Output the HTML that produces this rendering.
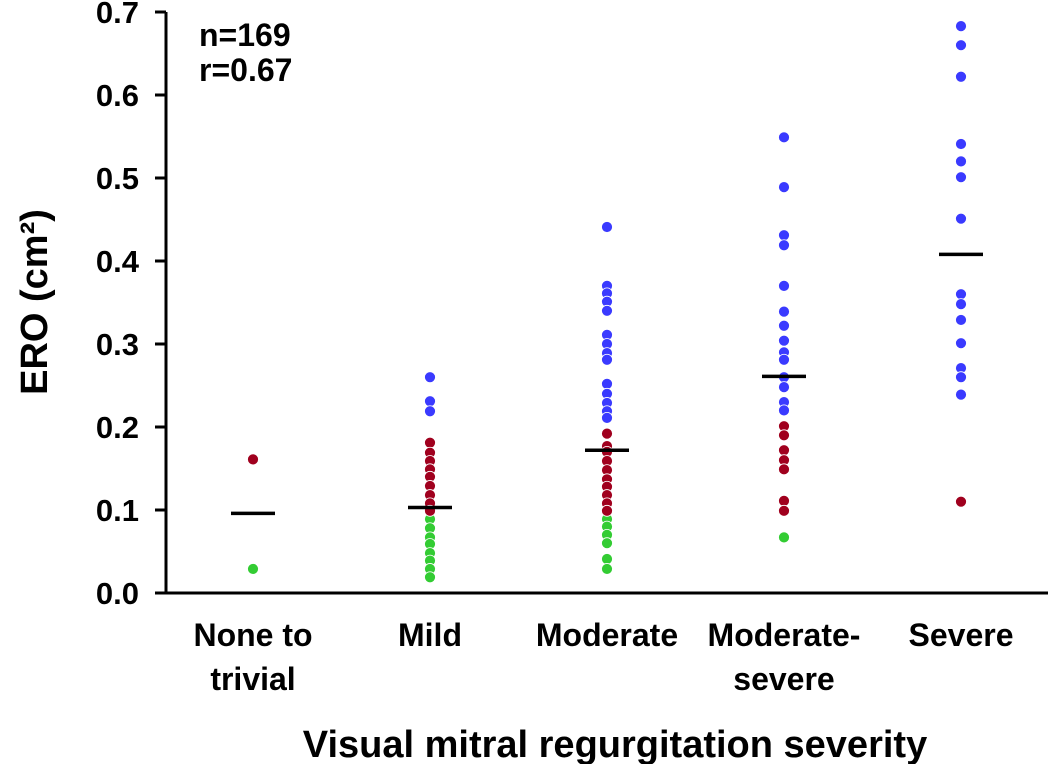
<!DOCTYPE html>
<html><head><meta charset="utf-8"><style>
body{margin:0;background:#fff;}
svg text{font-family:"Liberation Sans",Arial,sans-serif;font-weight:bold;fill:#000;}
</style></head><body>
<svg id="chart" width="1050" height="764">
<g id="axes"></g>
<g id="marks"></g>
<text x="199" y="46" font-size="32">n=169</text>
<text x="199" y="81" font-size="32">r=0.67</text>
<text transform="translate(47,302) rotate(-90)" text-anchor="middle" font-size="38">ERO (cm²)</text>
<text x="615" y="757" text-anchor="middle" font-size="38">Visual mitral regurgitation severity</text>
</svg>
<script>
const categories=[["None to","trivial"],["Mild"],["Moderate"],["Moderate-","severe"],["Severe"]];
const yTicks=[0,0.1,0.2,0.3,0.4,0.5,0.6,0.7];
const blueVals=[[],[0.260,0.231,0.219],[0.441,0.370,0.361,0.351,0.340,0.311,0.300,0.289,0.281,0.252,0.240,0.229,0.219,0.211],[0.549,0.489,0.431,0.419,0.370,0.339,0.322,0.304,0.290,0.281,0.260,0.248,0.230,0.220],[0.683,0.660,0.622,0.541,0.520,0.501,0.451,0.360,0.348,0.329,0.301,0.271,0.260,0.239]];
const redVals=[[0.161],[0.181,0.169,0.159,0.149,0.140,0.129,0.118,0.108,0.099],[0.192,0.177,0.170,0.159,0.148,0.137,0.128,0.118,0.108,0.099],[0.201,0.190,0.172,0.160,0.149,0.111,0.099],[0.110]];
const greenVals=[[0.029],[0.089,0.078,0.067,0.059,0.048,0.039,0.029,0.019],[0.089,0.080,0.070,0.060,0.041,0.029],[0.067],[]];
const means=[0.096,0.103,0.172,0.261,0.408];

const NS="http://www.w3.org/2000/svg";
const y=v=>593-v*830;
const x=i=>253+i*177;
function mk(tag,attrs,parent){const e=document.createElementNS(NS,tag);for(const k in attrs)e.setAttribute(k,attrs[k]);parent.appendChild(e);return e;}
const ax=document.getElementById('axes'),mg=document.getElementById('marks');
let l=mk('line',{x1:166,y1:y(0.7),x2:166,y2:y(0)+1.5,stroke:'#000','stroke-width':3},ax);


l=mk('line',{x1:155,y1:y(0),x2:1048,y2:y(0),stroke:'#000','stroke-width':3},ax);


yTicks.forEach(t=>{
  const tk=mk('line',{x1:155,y1:y(t),x2:166,y2:y(t),stroke:'#000','stroke-width':3},ax);
  
  
  const tx=mk('text',{x:139,y:y(t)+11,'text-anchor':'end','font-size':31},ax);
  tx.textContent=t.toFixed(1);
  
  
});
categories.forEach((c,i)=>{
  c.forEach((line,j)=>{
    const tx=mk('text',{x:x(i),y:646+j*44,'text-anchor':'middle','font-size':32},ax);
    tx.textContent=line;
    
    
  });
});
function dots(arr,color,name){
  arr.forEach((vals,i)=>vals.forEach(v=>{
    const d=mk('circle',{cx:x(i),cy:y(v),r:5.5,fill:color,stroke:'#fff','stroke-width':0.8},mg);
    
    
  }));
}
dots(greenVals,'#33cc33','green-point');
dots(redVals,'#a0001e','red-point');
dots(blueVals,'#3a3aff','blue-point');
means.forEach((m,i)=>{
  const ln=mk('line',{x1:x(i)-22,y1:y(m),x2:x(i)+22,y2:y(m),stroke:'#000','stroke-width':3.5},mg);
  
  
});
</script>
</body></html>
